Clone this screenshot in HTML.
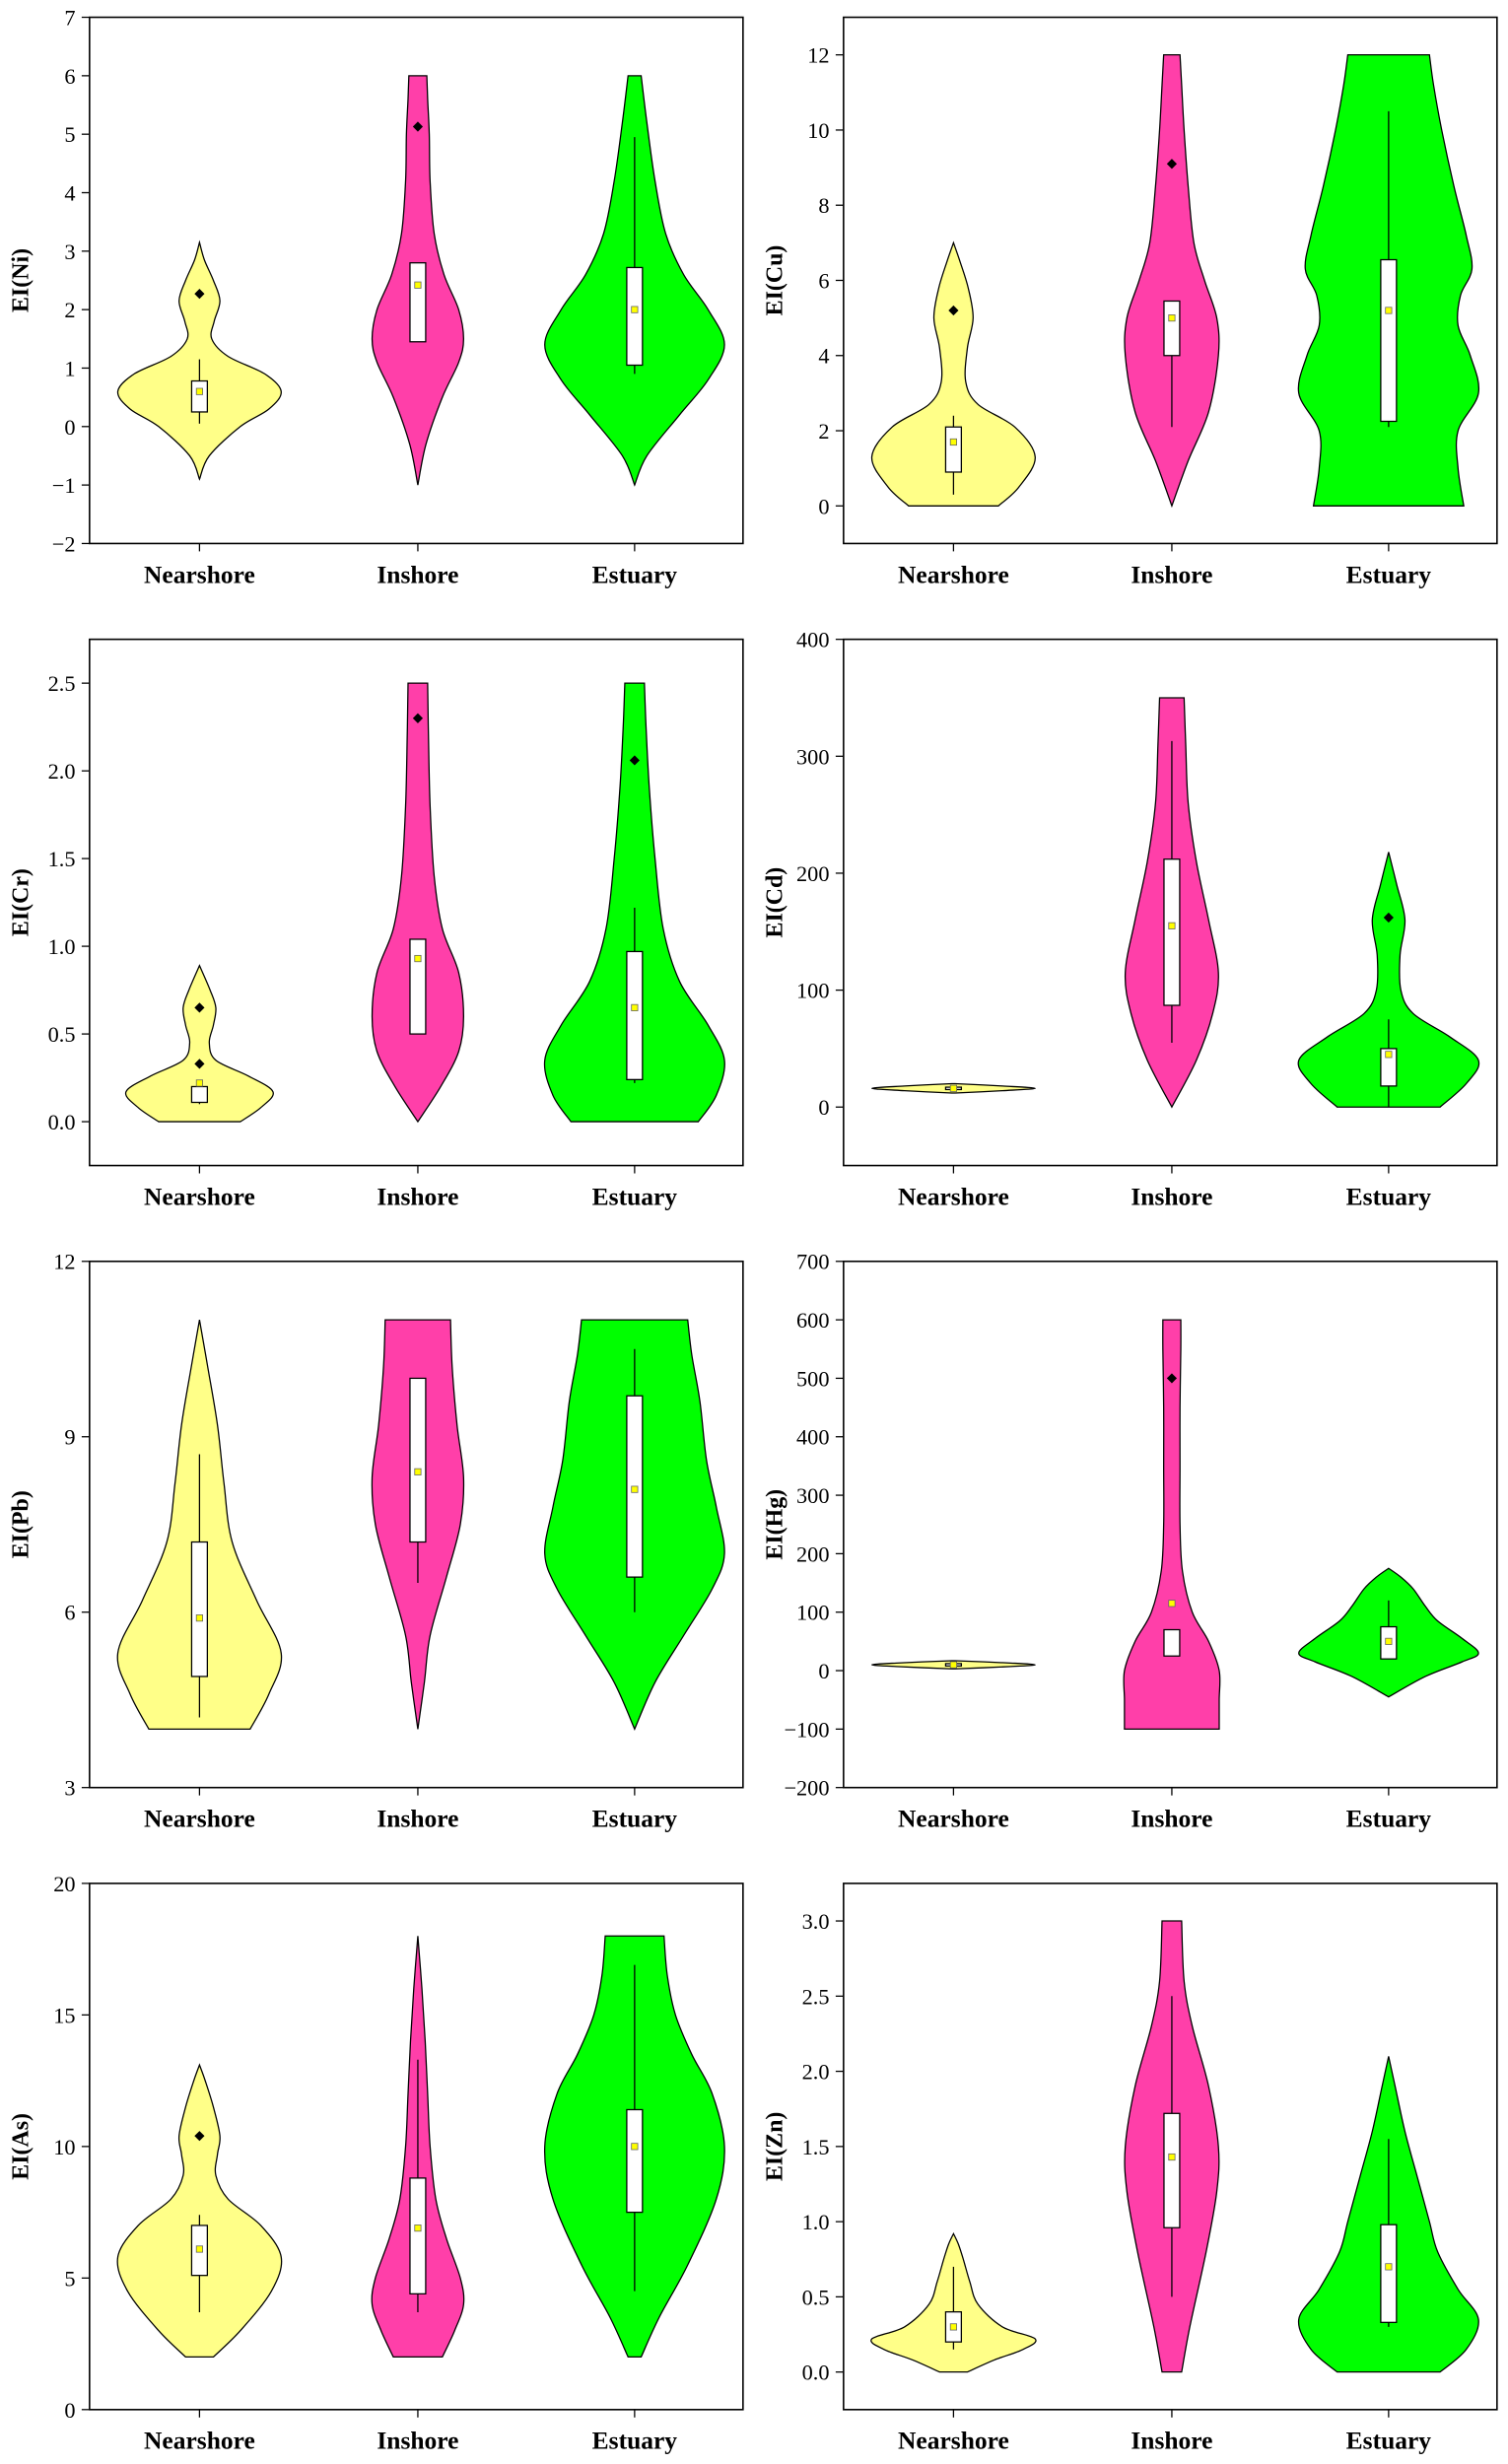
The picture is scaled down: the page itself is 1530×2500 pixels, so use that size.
<!DOCTYPE html>
<html><head><meta charset="utf-8"><style>
html,body{margin:0;padding:0;background:#fff}
svg{display:block}
text{font-family:"Liberation Serif",serif}
</style></head><body>
<svg id="chart" width="1530" height="2500" viewBox="0 0 960 1568.63" xmlns="http://www.w3.org/2000/svg"></svg>
<script>
const categories = ["Nearshore","Inshore","Estuary"];
const colors = ["#FFFF88","#FF3FA9","#00FF00"];
const panelTitles = ["EI(Ni)","EI(Cu)","EI(Cr)","EI(Cd)","EI(Pb)","EI(Hg)","EI(As)","EI(Zn)"];
const axisRanges = [[-2,7],[-1,13],[-0.25,2.75],[-50,400],[3,12],[-200,700],[0,20],[-0.25,3.25]];
const axisTicks = [
 [-2,-1,0,1,2,3,4,5,6,7],[0,2,4,6,8,10,12],[0,0.5,1,1.5,2,2.5],[0,100,200,300,400],
 [3,6,9,12],[-200,-100,0,100,200,300,400,500,600,700],[0,5,10,15,20],[0,0.5,1,1.5,2,2.5,3]];
const tickDecimals = [0,0,1,0,0,0,0,1];
// violin profiles: [value, relative density]
const profiles = [
 [ [[-0.9,0],[-0.5,0.12],[0,0.5],[0.3,0.85],[0.6,1],[0.9,0.8],[1.2,0.35],[1.5,0.15],[1.8,0.18],[2.15,0.25],[2.5,0.17],[2.85,0.06],[3.15,0]],
   [[-1,0],[-0.3,0.1],[0.5,0.3],[1.1,0.5],[1.5,0.56],[2,0.5],[2.6,0.32],[3.3,0.2],[4.2,0.15],[5,0.14],[5.6,0.12],[6,0.11]],
   [[-1,0],[-0.5,0.15],[0.2,0.55],[0.8,0.9],[1.4,1.1],[2,0.9],[2.6,0.6],[3.3,0.38],[4.2,0.25],[5.2,0.15],[6,0.08]] ],
 [ [[0,0.55],[0.5,0.8],[1.3,1],[2.1,0.75],[2.7,0.3],[3.3,0.15],[4.2,0.17],[5,0.24],[5.8,0.18],[6.5,0.08],[7,0]],
   [[0,0],[1.2,0.2],[2.5,0.45],[4,0.57],[5,0.55],[6,0.4],[7,0.27],[8.5,0.2],[10,0.15],[11.2,0.12],[12,0.1]],
   [[0,0.92],[1,0.85],[2,0.85],[3,1.1],[4,1.0],[4.8,0.85],[5.6,0.88],[6.3,1.02],[7.2,0.95],[8.5,0.8],[10,0.65],[11.2,0.55],[12,0.5]] ],
 [ [[0,0.5],[0.08,0.75],[0.17,0.9],[0.26,0.6],[0.35,0.2],[0.45,0.12],[0.55,0.17],[0.65,0.2],[0.75,0.13],[0.89,0]],
   [[0,0],[0.2,0.28],[0.4,0.5],[0.6,0.56],[0.85,0.5],[1.1,0.3],[1.4,0.2],[1.8,0.15],[2.2,0.13],[2.5,0.12]],
   [[0,0.78],[0.15,1.0],[0.35,1.1],[0.55,0.9],[0.8,0.55],[1.1,0.35],[1.5,0.25],[1.9,0.18],[2.25,0.14],[2.5,0.12]] ],
 [ [[12,0.02],[14,0.6],[16,1.0],[18,0.6],[20,0.02]],
   [[0,0],[40,0.3],[80,0.5],[115,0.57],[160,0.45],[210,0.3],[260,0.2],[310,0.17],[350,0.15]],
   [[0,0.63],[20,0.95],[40,1.1],[60,0.75],[80,0.3],[100,0.15],[130,0.14],[160,0.2],[190,0.1],[218,0]] ],
 [ [[4,0.62],[4.6,0.85],[5.3,1.0],[6.2,0.7],[7.2,0.4],[8.2,0.3],[9.2,0.22],[10.2,0.1],[11,0]],
   [[4,0],[4.8,0.08],[5.6,0.15],[6.6,0.35],[7.5,0.52],[8.3,0.56],[9.2,0.48],[10.2,0.42],[11,0.4]],
   [[4,0],[4.8,0.25],[5.6,0.6],[6.4,0.95],[7,1.1],[7.8,1.0],[8.6,0.88],[9.6,0.8],[10.4,0.7],[11,0.65]] ],
 [ [[3,0.02],[7,0.7],[10,1.0],[13,0.7],[17,0.02]],
   [[-100,0.58],[-50,0.58],[0,0.58],[50,0.45],[100,0.25],[170,0.13],[250,0.1],[350,0.1],[450,0.1],[550,0.11],[600,0.11]],
   [[-45,0],[-10,0.45],[15,0.9],[30,1.1],[55,0.9],[85,0.6],[110,0.45],[140,0.3],[160,0.15],[175,0]] ],
 [ [[2,0.17],[3,0.5],[4.5,0.88],[5.8,1.0],[7,0.75],[8,0.35],[8.9,0.2],[9.7,0.22],[10.4,0.25],[11.5,0.17],[12.5,0.07],[13.1,0]],
   [[2,0.3],[3,0.45],[4,0.56],[5,0.52],[6.5,0.35],[8,0.22],[10,0.15],[12,0.12],[14,0.09],[16,0.05],[18,0]],
   [[2,0.08],[3.5,0.3],[5.5,0.65],[8,1.0],[10,1.1],[12,0.95],[13.5,0.7],[15,0.5],[16.5,0.4],[18,0.36]] ],
 [ [[0,0.17],[0.08,0.5],[0.15,0.85],[0.22,1.0],[0.3,0.6],[0.45,0.3],[0.6,0.2],[0.75,0.12],[0.85,0.06],[0.92,0]],
   [[0,0.12],[0.3,0.22],[0.8,0.42],[1.2,0.55],[1.5,0.57],[1.9,0.45],[2.3,0.25],[2.6,0.15],[3,0.12]],
   [[0,0.63],[0.15,0.95],[0.35,1.1],[0.55,0.85],[0.8,0.6],[1.0,0.5],[1.3,0.35],[1.6,0.2],[1.9,0.08],[2.1,0]] ]
];
// [q1, q3, whiskerLow, whiskerHigh, mean]
const boxStats = [
 [[0.25,0.78,0.05,1.15,0.6],[1.45,2.8,1.45,2.8,2.42],[1.05,2.72,0.9,4.95,2.0]],
 [[0.9,2.1,0.3,2.4,1.7],[4.0,5.45,2.1,5.45,5.0],[2.25,6.55,2.1,10.5,5.2]],
 [[0.11,0.2,0.1,0.22,0.22],[0.5,1.04,0.5,1.04,0.93],[0.24,0.97,0.22,1.22,0.65]],
 [[15,17,14,18,16],[87,212,55,313,155],[18,50,0,75,45]],
 [[4.9,7.2,4.2,8.7,5.9],[7.2,10,6.5,10,8.4],[6.6,9.7,6.0,10.5,8.1]],
 [[8,12,6,14,10],[25,70,25,70,115],[20,75,20,120,50]],
 [[5.1,7.0,3.7,7.4,6.1],[4.4,8.8,3.7,13.3,6.9],[7.5,11.4,4.5,16.9,10.0]],
 [[0.2,0.4,0.15,0.7,0.3],[0.96,1.72,0.5,2.5,1.43],[0.33,0.98,0.3,1.55,0.7]]
];
const outliers = [
 [[2.27],[5.13],[]],[[5.2],[9.1],[]],[[0.65,0.33],[2.3],[2.06]],[[],[],[162]],
 [[],[],[]],[[],[500],[]],[[10.4],[],[]],[[],[],[]]
];

const NS="http://www.w3.org/2000/svg";
const svg=document.getElementById('chart');
function mk(tag,attrs,parent){const e=document.createElementNS(NS,tag);for(const k in attrs)e.setAttribute(k,attrs[k]);(parent||svg).appendChild(e);return e;}
const panelLeft=[57,537], panelW=416, rowTop=[11,407,803,1199], panelH=335;
const catOffsets=[70,209,347];
const unitW=52;

function smoothPath(pts){
  let d="M"+pts[0][0]+","+pts[0][1];
  for(let i=0;i<pts.length-1;i++){
    const p0=pts[Math.max(i-1,0)],p1=pts[i],p2=pts[i+1],p3=pts[Math.min(i+2,pts.length-1)];
    const c1=[p1[0]+(p2[0]-p0[0])/6,p1[1]+(p2[1]-p0[1])/6];
    const c2=[p2[0]-(p3[0]-p1[0])/6,p2[1]-(p3[1]-p1[1])/6];
    d+=" C"+c1[0]+","+c1[1]+" "+c2[0]+","+c2[1]+" "+p2[0]+","+p2[1];
  }
  return d;
}

for(let p=0;p<8;p++){
  const col=p%2,row=Math.floor(p/2);
  const x0=panelLeft[col],y0=rowTop[row];
  const [lo,hi]=axisRanges[p];
  const ys=v=>y0+panelH-(v-lo)/(hi-lo)*panelH;
  const g=mk('g',{});
  
  
  for(let c=0;c<3;c++){
    const cx=x0+catOffsets[c];
    const prof=profiles[p][c];
    const right=prof.map(q=>[cx+q[1]*unitW,ys(q[0])]);
    const left=prof.slice().reverse().map(q=>[cx-q[1]*unitW,ys(q[0])]);
    let d=smoothPath(right);
    d+=" L"+left[0][0]+","+left[0][1]+smoothPath(left).replace(/^M[^C]*/," ")+" Z";
    const v=mk('path',{d:d,fill:colors[c],stroke:'#000','stroke-width':0.8},g);
    
    
    const b=boxStats[p][c];
    const wl=mk('line',{x1:cx,x2:cx,y1:ys(b[2]),y2:ys(b[3]),stroke:'#000','stroke-width':0.8},g);
    
    
    const bx=mk('rect',{x:cx-5,y:ys(b[1]),width:10,height:Math.max(ys(b[0])-ys(b[1]),0.8),fill:'#fff',stroke:'#000','stroke-width':0.8},g);
    
    
    const mn=mk('rect',{x:cx-2,y:ys(b[4])-2,width:4,height:4,fill:'#FFFF00',stroke:'#666','stroke-width':0.5},g);
    
    
    for(const o of outliers[p][c]){
      const oy=ys(o);
      const od=mk('path',{d:`M${cx},${oy-3.2} L${cx+3.2},${oy} L${cx},${oy+3.2} L${cx-3.2},${oy} Z`,fill:'#000'},g);
      
      
    }
    const tk=mk('line',{x1:cx,x2:cx,y1:y0+panelH,y2:y0+panelH+5,stroke:'#000','stroke-width':0.8},g);
    
    
    const lb=mk('text',{x:cx,y:y0+panelH+25,'text-anchor':'middle','font-size':16,'font-weight':'bold'},g);
    lb.textContent=categories[c];
    
    
  }
  const fr=mk('rect',{x:x0,y:y0,width:panelW,height:panelH,fill:'none',stroke:'#000','stroke-width':1},g);
  
  
  for(const t of axisTicks[p]){
    const ty=ys(t);
    const tl=mk('line',{x1:x0-5,x2:x0,y1:ty,y2:ty,stroke:'#000','stroke-width':0.8},g);
    
    
    const tt=mk('text',{x:x0-9,y:ty+5,'text-anchor':'end','font-size':14},g);
    tt.textContent=(t<0?'\u2212':'')+Math.abs(t).toFixed(tickDecimals[p]);
    
    
  }
  const yt=mk('text',{x:0,y:0,'text-anchor':'middle','font-size':15,'font-weight':'bold',transform:`translate(${x0-39},${y0+panelH/2}) rotate(-90)`},g);
  yt.textContent=panelTitles[p];
  
  
}
</script>
</body></html>
